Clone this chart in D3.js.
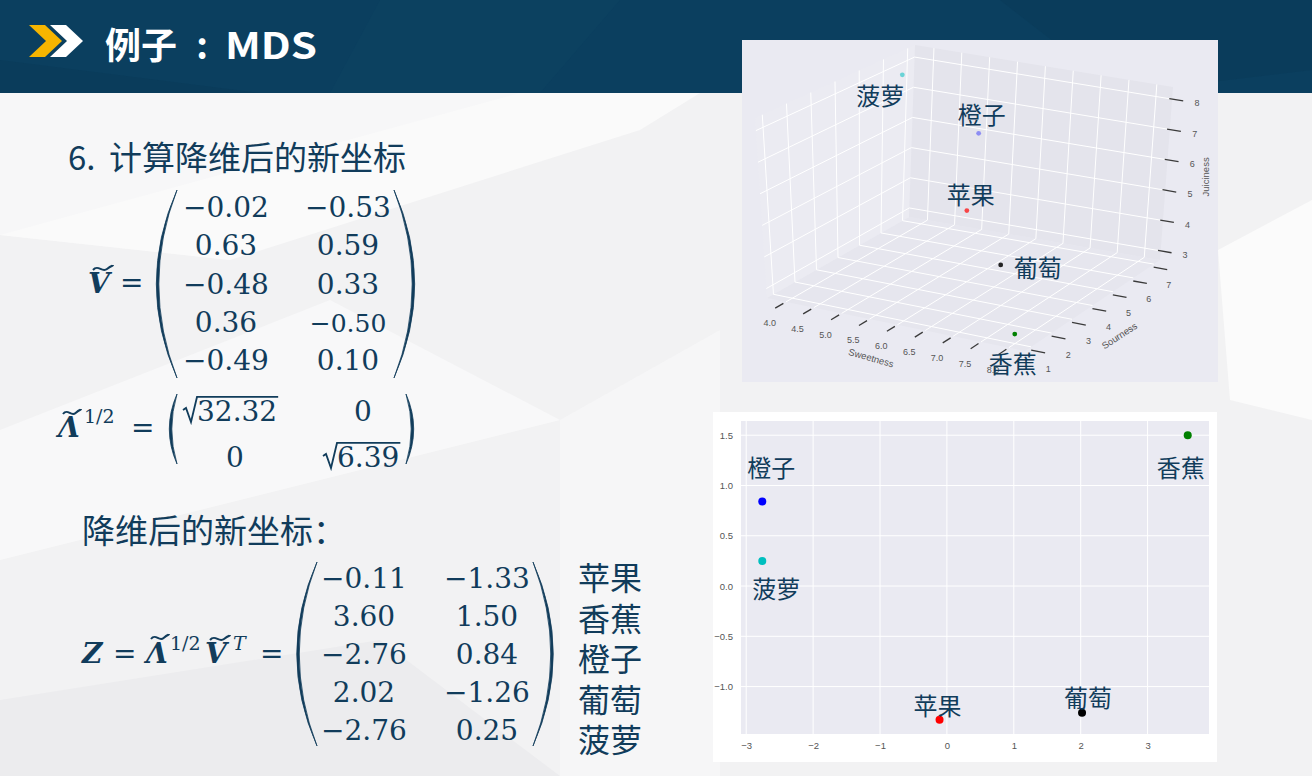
<!DOCTYPE html>
<html>
<head>
<meta charset="utf-8">
<script src="https://cdn.jsdelivr.net/npm/d3@7"></script>
<style>
body { margin: 0; background: #f3f3f4; }
svg { display: block; }
</style>
</head>
<body>
<svg id="slide" width="1312" height="776"></svg>
<script>
const svg = d3.select("#slide");

// 水果名称（顺序与矩阵行一致）
const fruits = ["苹果", "香蕉", "橙子", "葡萄", "菠萝"];
// 原始三维数据：甜度、酸度、多汁度
const sweetness = [6, 8, 6, 7, 4];
const sourness = [4, 1, 4.5, 3, 6];
const juiciness = [5, 3, 7.3, 4, 8];

// 降维后的新坐标 Z
const dim1 = [-0.11, 3.60, -2.76, 2.02, -2.76];
const dim2 = [-1.33, 1.50, 0.84, -1.26, 0.25];

// 特征向量矩阵 V 的两列，以及特征值
const vCol1 = [-0.02, 0.63, -0.48, 0.36, -0.49];
const vCol2 = [-0.53, 0.59, 0.33, -0.50, 0.10];
const eigenValues = [32.32, 6.39];

// 刻度
const sweetTicks = [4.0, 4.5, 5.0, 5.5, 6.0, 6.5, 7.0, 7.5, 8.0];
const sourTicks = [1, 2, 3, 4, 5, 6, 7];
const juiceTicks = [3, 4, 5, 6, 7, 8];
const xTicks2d = [-3, -2, -1, 0, 1, 2, 3];
const yTicks2d = [-1.0, -0.5, 0.0, 0.5, 1.0, 1.5];

// 颜色（matplotlib 的 r g b k c），三维图里的深度透明度
const pointColors = ["#ff0000", "#008000", "#0000ff", "#000000", "#00bfbf"];
const depthAlpha = [0.7, 1, 0.38, 0.85, 0.55];
const ink = "#113c5b";
const cjk = "'Noto Sans CJK SC', 'Noto Sans', sans-serif";
const serif = "'DejaVu Serif', serif";
const tickFont = "'Liberation Sans', Arial, sans-serif";

// ---------------- 背景 ----------------
svg.append("rect").attr("width", 1312).attr("height", 776).attr("fill", "#f2f2f3");
const bgPolys = [
    [[0, 93], [520, 93], [230, 260], [0, 235]],
    [[0, 235], [230, 260], [640, 130], [700, 93], [520, 93]],
    [[0, 430], [330, 300], [560, 420], [0, 560]],
    [[0, 700], [380, 640], [560, 776], [0, 776]],
    [[560, 420], [720, 330], [720, 776], [560, 776]],
    [[1218, 250], [1312, 200], [1312, 420], [1230, 400]]
];
const bgFill = ["#f7f7f8", "#fafafa", "#f8f8f9", "#ececee", "#f6f6f7", "#fbfbfb"];
bgPolys.forEach((p, i) => {
    svg.append("polygon")
        .attr("points", p.map(d => d.join(",")).join(" "))
        .attr("fill", bgFill[i]);
});

// ---------------- 标题栏 ----------------
svg.append("rect").attr("width", 1312).attr("height", 93).attr("fill", "#0b3f5f");
svg.append("polygon").attr("points", "0,60 260,93 0,93").attr("fill", "#0a3b59").attr("opacity", 0.6);
svg.append("polygon").attr("points", "380,0 620,0 540,93 330,93").attr("fill", "#0d4464").attr("opacity", 0.35);
svg.append("polygon").attr("points", "1000,0 1312,0 1312,70 1120,93").attr("fill", "#0a3a58").attr("opacity", 0.5);

svg.append("polygon").attr("points", "29,25 45,25 62,41 45,57 29,57 46,41").attr("fill", "#f6b500");
svg.append("polygon").attr("points", "50,25 66,25 83,41 66,57 50,57 67,41").attr("fill", "#ffffff");

const titleParts = [["例子", 105, "start"], [":", 202, "middle"], ["MDS", 225, "start"]];
titleParts.forEach(t => {
    const el = svg.append("text")
        .attr("x", t[1]).attr("y", 59)
        .attr("text-anchor", t[2])
        .attr("fill", "#ffffff")
        .attr("font-family", cjk)
        .attr("font-weight", 700)
        .attr("font-size", 36)
        .text(t[0]);
    if (t[0] === "MDS") el.attr("textLength", 92).attr("lengthAdjust", "spacingAndGlyphs");
});

// ---------------- 左侧公式 ----------------
const fmt = d3.format(".2f");

svg.append("text")
    .attr("x", 68).attr("y", 170)
    .attr("fill", ink).attr("font-family", cjk).attr("font-size", 33)
    .text("6.");
svg.append("text")
    .attr("x", 109).attr("y", 170)
    .attr("fill", ink).attr("font-family", cjk).attr("font-size", 33)
    .text("计算降维后的新坐标");

// 波浪号
function tilde(x, y, w) {
    svg.append("path")
        .attr("d", `M${x},${y + 2} C${x + w * 0.25},${y - 4} ${x + w * 0.45},${y + 5} ${x + w * 0.7},${y + 1} S${x + w},${y - 2} ${x + w},${y - 3}`)
        .attr("fill", "none").attr("stroke", ink).attr("stroke-width", 2);
}

function mathText(x, y, str, size, opts) {
    const t = svg.append("text")
        .attr("x", x).attr("y", y)
        .attr("fill", ink).attr("font-family", serif).attr("font-size", size)
        .text(str);
    if (opts && opts.bold) t.attr("font-weight", 700);
    if (opts && opts.italic) t.attr("font-style", "italic");
    if (opts && opts.anchor) t.attr("text-anchor", opts.anchor);
    return t;
}

// 圆括号
function paren(x, top, bottom, side) {
    const mid = (top + bottom) / 2;
    const bulge = (bottom - top) * 0.11 * side;
    svg.append("path")
        .attr("d", `M${x},${top} Q${x - 2 * bulge},${mid} ${x},${bottom} Q${x - 2 * bulge + 5 * side},${mid} ${x},${top} Z`)
        .attr("fill", ink).attr("stroke", ink).attr("stroke-width", 0.8);
}

// 根号
function radical(x, baseline, numStr, size) {
    const t = mathText(x + 14, baseline, numStr, size);
    const w = t.node().getComputedTextLength();
    const top = baseline - size * 0.86;
    svg.append("path")
        .attr("d", `M${x},${baseline - 11} L${x + 3},${baseline - 13} L${x + 8},${baseline + 1} L${x + 14},${top} L${x + 15 + w},${top}`)
        .attr("fill", "none").attr("stroke", ink).attr("stroke-width", 1.8);
}

// V 矩阵
mathText(88, 293, "V", 28, { bold: true, italic: true });
tilde(93, 268, 20);
mathText(120, 292, "=", 28);
const vRows = d3.scalePoint().domain(d3.range(vCol1.length)).range([217, 370]);
paren(177, 190, 378, 1);
paren(394, 190, 378, -1);
vCol1.forEach((v, i) => mathText(226, vRows(i), fmt(v), 28, { anchor: "middle" }));
vCol2.forEach((v, i) => mathText(348, vRows(i), fmt(v), i === 3 ? 25 : 28, { anchor: "middle" }));

// Λ^{1/2} 矩阵
mathText(58, 437, "Λ", 28, { bold: true, italic: true });
tilde(63, 412, 18);
mathText(84, 423, "1/2", 19);
mathText(131, 437, "=", 28);
paren(177, 394, 464, 1);
paren(406, 394, 464, -1);
radical(183, 421, String(eigenValues[0]), 28);
mathText(363, 421, "0", 28, { anchor: "middle" });
mathText(235, 467, "0", 28, { anchor: "middle" });
radical(323, 467, String(eigenValues[1]), 28);

svg.append("text")
    .attr("x", 82).attr("y", 543)
    .attr("fill", ink).attr("font-family", cjk).attr("font-size", 33)
    .text("降维后的新坐标：");

// Z 矩阵
mathText(82, 663, "Z", 28, { bold: true, italic: true });
mathText(113, 663, "=", 28);
mathText(146, 663, "Λ", 28, { bold: true, italic: true });
tilde(151, 637, 18);
mathText(170, 650, "1/2", 19);
mathText(205, 663, "V", 28, { bold: true, italic: true });
tilde(210, 638, 20);
mathText(233, 650, "T", 19, { italic: true });
mathText(260, 663, "=", 28);
const zRows = d3.scalePoint().domain(d3.range(dim1.length)).range([588, 740]);
paren(317, 562, 746, 1);
paren(533, 562, 746, -1);
dim1.forEach((v, i) => mathText(364, zRows(i), fmt(v), 28, { anchor: "middle" }));
dim2.forEach((v, i) => mathText(487, zRows(i), fmt(v), 28, { anchor: "middle" }));

const nameRows = d3.scalePoint().domain(d3.range(fruits.length)).range([590, 752]);
fruits.forEach((f, i) => {
    svg.append("text")
        .attr("x", 578).attr("y", nameRows(i))
        .attr("fill", ink).attr("font-family", cjk).attr("font-size", 32)
        .text(f);
});

// ---------------- 三维散点图 ----------------
const g3 = svg.append("g");
svg.append("clipPath").attr("id", "clip3d")
    .append("rect").attr("x", 742).attr("y", 40).attr("width", 476).attr("height", 342);
g3.attr("clip-path", "url(#clip3d)");
g3.append("rect").attr("x", 742).attr("y", 40).attr("width", 476).attr("height", 342).attr("fill", "#eaeaf2");

const sx = d3.scaleLinear().domain([3.66, 8.29]).range([0, 1]);
const sy = d3.scaleLinear().domain([0.7, 7.3]).range([0, 1]);
const sz = d3.scaleLinear().domain([2.7, 8.4]).range([0, 1]);
const [x0, x1] = sx.domain(), [y0, y1] = sy.domain(), [z0, z1] = sz.domain();

// 立方体底面四个角与竖直方向（近似透视）
const corner = { L: [767, 298], F: [1025, 351], R: [1160, 260], B: [909, 217] };
const upv = { L: [-12, -180], F: [-5, -181], R: [13, -173], B: [6, -172] };

function lerp(a, b, t) {
    return [a[0] + (b[0] - a[0]) * t, a[1] + (b[1] - a[1]) * t];
}
function proj(x, y, z) {
    const u = sx(x), v = sy(y), w = sz(z);
    const base = lerp(lerp(corner.L, corner.F, u), lerp(corner.B, corner.R, u), v);
    const dir = lerp(lerp(upv.L, upv.F, u), lerp(upv.B, upv.R, u), v);
    return [base[0] + dir[0] * w, base[1] + dir[1] * w];
}
const line3 = d3.line();

// 三个背景面
const panes = [
    { pts: [[x0, y0, z0], [x1, y0, z0], [x1, y1, z0], [x0, y1, z0]], fill: "#e6e6ee" },
    { pts: [[x0, y0, z0], [x0, y1, z0], [x0, y1, z1], [x0, y0, z1]], fill: "#ebebf2" },
    { pts: [[x0, y1, z0], [x1, y1, z0], [x1, y1, z1], [x0, y1, z1]], fill: "#e4e4ec" }
];
panes.forEach(p => {
    g3.append("path")
        .attr("d", line3(p.pts.map(d => proj(...d))) + "Z")
        .attr("fill", p.fill);
});

// 网格线
function gridLine(a, b) {
    g3.append("path")
        .attr("d", line3([proj(...a), proj(...b)]))
        .attr("stroke", "#ffffff").attr("stroke-width", 1).attr("fill", "none");
}
sweetTicks.forEach(t => { gridLine([t, y0, z0], [t, y1, z0]); gridLine([t, y1, z0], [t, y1, z1]); });
sourTicks.forEach(t => { gridLine([x0, t, z0], [x1, t, z0]); gridLine([x0, t, z0], [x0, t, z1]); });
juiceTicks.forEach(t => { gridLine([x0, y0, t], [x0, y1, t]); gridLine([x0, y1, t], [x1, y1, t]); });

// 刻度线与刻度标签
function tickMark(a, b) {
    g3.append("path")
        .attr("d", line3([proj(...a), proj(...b)]))
        .attr("stroke", "#3a3a3a").attr("stroke-width", 1.3);
}
function tickLabel(p, str) {
    const q = proj(...p);
    g3.append("text")
        .attr("x", q[0]).attr("y", q[1])
        .attr("text-anchor", "middle").attr("dominant-baseline", "central")
        .attr("font-family", tickFont).attr("font-size", 9).attr("fill", "#555")
        .text(str);
}
sweetTicks.forEach(t => {
    tickMark([t, y0 - 0.5, z0], [t, y0 - 0.12, z0]);
    tickLabel([t, y0 - 0.8, z0 - 0.35], d3.format(".1f")(t));
});
sourTicks.forEach(t => {
    tickMark([x1, t, z0 - 0.1], [x1 + 0.25, t, z0 - 0.1]);
    tickLabel([x1 + 0.3, t, z0 - 0.6], t);
});
juiceTicks.forEach(t => {
    tickMark([x1 - 0.05, y1, t], [x1 + 0.2, y1, t]);
    tickLabel([x1 + 0.45, y1, t], t);
});

// 坐标轴名称
function axisTitle(p, str, angle) {
    const q = proj(...p);
    g3.append("text")
        .attr("transform", `translate(${q[0]},${q[1]}) rotate(${angle})`)
        .attr("text-anchor", "middle").attr("dominant-baseline", "central")
        .attr("font-family", tickFont).attr("font-size", 9.5).attr("fill", "#555")
        .text(str);
}
axisTitle([6.0, y0 - 1.3, z0 - 0.5], "Sweetness", 16);
axisTitle([x1 + 0.5, 4, z0 - 0.8], "Sourness", -33);
axisTitle([x1 + 0.7, y1, 5.65], "Juiciness", -90);

// 散点与标注
const label3dOffset = [[4, -17], [-2, 28], [3, -20], [37, 2], [-22, 20]];
fruits.forEach((f, i) => {
    const q = proj(sweetness[i], sourness[i], juiciness[i]);
    g3.append("circle")
        .attr("cx", q[0]).attr("cy", q[1]).attr("r", 2.4)
        .attr("fill", pointColors[i])
        .attr("fill-opacity", depthAlpha[i]);
    g3.append("text")
        .attr("x", q[0] + label3dOffset[i][0]).attr("y", q[1] + label3dOffset[i][1])
        .attr("text-anchor", "middle").attr("dominant-baseline", "central")
        .attr("font-family", cjk).attr("font-size", 24).attr("fill", ink)
        .text(f);
});

// ---------------- 二维散点图 ----------------
svg.append("rect").attr("x", 713).attr("y", 412).attr("width", 504).attr("height", 350).attr("fill", "#ffffff");

const ext1 = d3.extent(dim1), ext2 = d3.extent(dim2);
const pad1 = (ext1[1] - ext1[0]) * 0.05, pad2 = (ext2[1] - ext2[0]) * 0.05;
const x = d3.scaleLinear().domain([ext1[0] - pad1, ext1[1] + pad1]).range([741, 1209]);
const y = d3.scaleLinear().domain([ext2[0] - pad2, ext2[1] + pad2]).range([734, 421]);

const g2 = svg.append("g");
g2.append("rect")
    .attr("x", x.range()[0]).attr("y", y.range()[1])
    .attr("width", x.range()[1] - x.range()[0])
    .attr("height", y.range()[0] - y.range()[1])
    .attr("fill", "#eaeaf2");

xTicks2d.forEach(t => {
    g2.append("line")
        .attr("x1", x(t)).attr("x2", x(t))
        .attr("y1", y.range()[0]).attr("y2", y.range()[1])
        .attr("stroke", "#ffffff").attr("stroke-width", 1);
});
yTicks2d.forEach(t => {
    g2.append("line")
        .attr("x1", x.range()[0]).attr("x2", x.range()[1])
        .attr("y1", y(t)).attr("y2", y(t))
        .attr("stroke", "#ffffff").attr("stroke-width", 1);
});

const xAxis = g2.append("g")
    .attr("transform", `translate(0,${y.range()[0]})`)
    .call(d3.axisBottom(x).tickValues(xTicks2d).tickFormat(d3.format("d")).tickSize(0).tickPadding(8));
const yAxis = g2.append("g")
    .attr("transform", `translate(${x.range()[0]},0)`)
    .call(d3.axisLeft(y).tickValues(yTicks2d).tickFormat(d3.format(".1f")).tickSize(0).tickPadding(8));
[xAxis, yAxis].forEach(a => {
    a.select(".domain").remove();
    a.selectAll("text").attr("font-family", tickFont).attr("font-size", 9.5).attr("fill", "#555");
});

const label2dOffset = [[-2, -15], [-7, 31], [9, -35], [6, -16], [14, 27]];
fruits.forEach((f, i) => {
    g2.append("circle")
        .attr("cx", x(dim1[i])).attr("cy", y(dim2[i])).attr("r", 4)
        .attr("fill", pointColors[i]);
    g2.append("text")
        .attr("x", x(dim1[i]) + label2dOffset[i][0]).attr("y", y(dim2[i]) + label2dOffset[i][1])
        .attr("text-anchor", "middle").attr("dominant-baseline", "central")
        .attr("font-family", cjk).attr("font-size", 24).attr("fill", ink)
        .text(f);
});
</script>
</body>
</html>
